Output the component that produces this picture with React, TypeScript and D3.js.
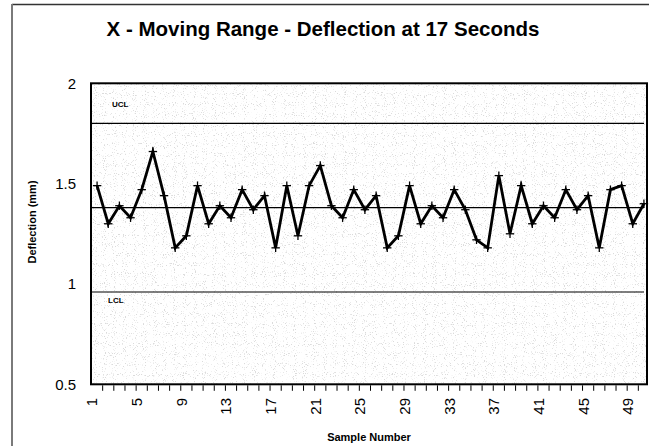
import React from "react";
import * as d3 from "d3";

const values: number[] = [
  1.49, 1.30, 1.39, 1.33, 1.47, 1.66, 1.44, 1.18, 1.24, 1.49,
  1.30, 1.39, 1.33, 1.47, 1.37, 1.44, 1.18, 1.49, 1.24, 1.49,
  1.59, 1.39, 1.33, 1.47, 1.37, 1.44, 1.18, 1.24, 1.49, 1.30,
  1.39, 1.33, 1.47, 1.37, 1.22, 1.18, 1.54, 1.25, 1.49, 1.30,
  1.39, 1.33, 1.47, 1.37, 1.44, 1.18, 1.47, 1.49, 1.30, 1.40,
];
const samples: number[] = values.map((_, i) => i + 1);
const xTickLabels: number[] = [1, 5, 9, 13, 17, 21, 25, 29, 33, 37, 41, 45, 49];
const yTicks: number[] = [0.5, 1, 1.5, 2];
const yTickLabels: string[] = ["0.5", "1", "1.5", "2"];
const ucl = 1.8;
const center = 1.38;
const lcl = 0.96;

const W = 649;
const H = 446;
const FONT = "'Liberation Sans', Arial, Helvetica, sans-serif";

const plot = { left: 91, right: 647, top: 83.3, bottom: 384.3 };

export default function App() {
  const x = d3
    .scaleBand<number>()
    .domain(samples)
    .range([91.5, 649.5]);
  const bw = x.bandwidth();
  const cx = (s: number) => (x(s) as number) + bw / 2;
  const y = d3.scaleLinear().domain([0.5, 2]).range([plot.bottom, plot.top]);

  const line = d3
    .line<number>()
    .x((_, i) => cx(samples[i]))
    .y((d) => y(d));

  const lineX0 = 92;
  const lineX1 = 644;
  const ms = 4.2;

  return (
    <svg
      width={W}
      height={H}
      style={{ position: "absolute", left: 0, top: 0, background: "#fff" }}
      fontFamily={FONT}
    >
      <defs>
        <filter id="speckle" x="0" y="0" width="1" height="1">
          <feTurbulence type="fractalNoise" baseFrequency="0.9" numOctaves="1" seed="7" result="n" />
          <feColorMatrix
            in="n"
            type="matrix"
            values="0 0 0 0 0.55  0 0 0 0 0.55  0 0 0 0 0.55  9 0 0 0 -5.4"
          />
        </filter>
      </defs>
      {/* outer frame */}
      <line x1={12} x2={W} y1={4.5} y2={4.5} stroke="#333" strokeWidth={1.5} />
      <line x1={12} x2={12} y1={4} y2={H} stroke="#7a7a7a" strokeWidth={2} />

      {/* title */}
      <text
        x={323}
        y={36}
        textAnchor="middle"
        fontSize={20.5}
        fontWeight="bold"
        fill="#000"
      >
        X - Moving Range - Deflection at 17 Seconds
      </text>

      {/* plot background speckle */}
      <rect
        x={plot.left}
        y={plot.top}
        width={plot.right - plot.left}
        height={plot.bottom - plot.top}
        fill="#fff"
      />
      <rect
        x={plot.left}
        y={plot.top}
        width={plot.right - plot.left}
        height={plot.bottom - plot.top}
        filter="url(#speckle)"
        opacity={0.6}
      />

      {/* control lines */}
      {[ucl, center, lcl].map((v, i) => (
        <line
          key={i}
          x1={lineX0}
          x2={lineX1}
          y1={y(v)}
          y2={y(v)}
          stroke="#000"
          strokeWidth={1.2}
        />
      ))}
      <text x={112} y={y(ucl) - 16} fontSize={8} fontWeight="bold">UCL</text>
      <text x={108} y={y(lcl) + 11.5} fontSize={8} fontWeight="bold">LCL</text>

      {/* data line */}
      <path d={line(values) || ""} fill="none" stroke="#000" strokeWidth={2.8} strokeLinejoin="miter" />
      {values.map((v, i) => {
        const px = cx(samples[i]);
        const py = y(v);
        return (
          <g key={i} stroke="#000" strokeWidth={1.3}>
            <line x1={px - ms} x2={px + ms} y1={py} y2={py} />
            <line x1={px} x2={px} y1={py - ms} y2={py + ms} />
          </g>
        );
      })}

      {/* plot frame */}
      <rect
        x={plot.left}
        y={plot.top}
        width={plot.right - plot.left}
        height={plot.bottom - plot.top}
        fill="none"
        stroke="#000"
        strokeWidth={2}
      />

      {/* x ticks at category boundaries */}
      {samples.slice(1).map((s) => (
        <line
          key={s}
          x1={x(s) as number}
          x2={x(s) as number}
          y1={plot.bottom + 1}
          y2={plot.bottom + 6.5}
          stroke="#000"
          strokeWidth={1}
        />
      ))}

      {/* x tick labels */}
      {xTickLabels.map((s) => {
        const px = cx(s) - 5;
        const py = 398;
        return (
          <text
            key={s}
            transform={`translate(${px},${py}) rotate(-90)`}
            textAnchor="end"
            dy="0.36em"
            fontSize={15}
          >
            {s}
          </text>
        );
      })}

      {/* y tick labels */}
      {yTicks.map((t, i) => (
        <text key={t} x={76} y={y(t)} dy="0.36em" textAnchor="end" fontSize={15}>
          {yTickLabels[i]}
        </text>
      ))}

      {/* axis titles */}
      <text
        transform={`translate(36,222) rotate(-90)`}
        textAnchor="middle"
        fontSize={11}
        fontWeight="bold"
      >
        Deflection (mm)
      </text>
      <text x={369} y={441} textAnchor="middle" fontSize={11} fontWeight="bold">
        Sample Number
      </text>
    </svg>
  );
}
